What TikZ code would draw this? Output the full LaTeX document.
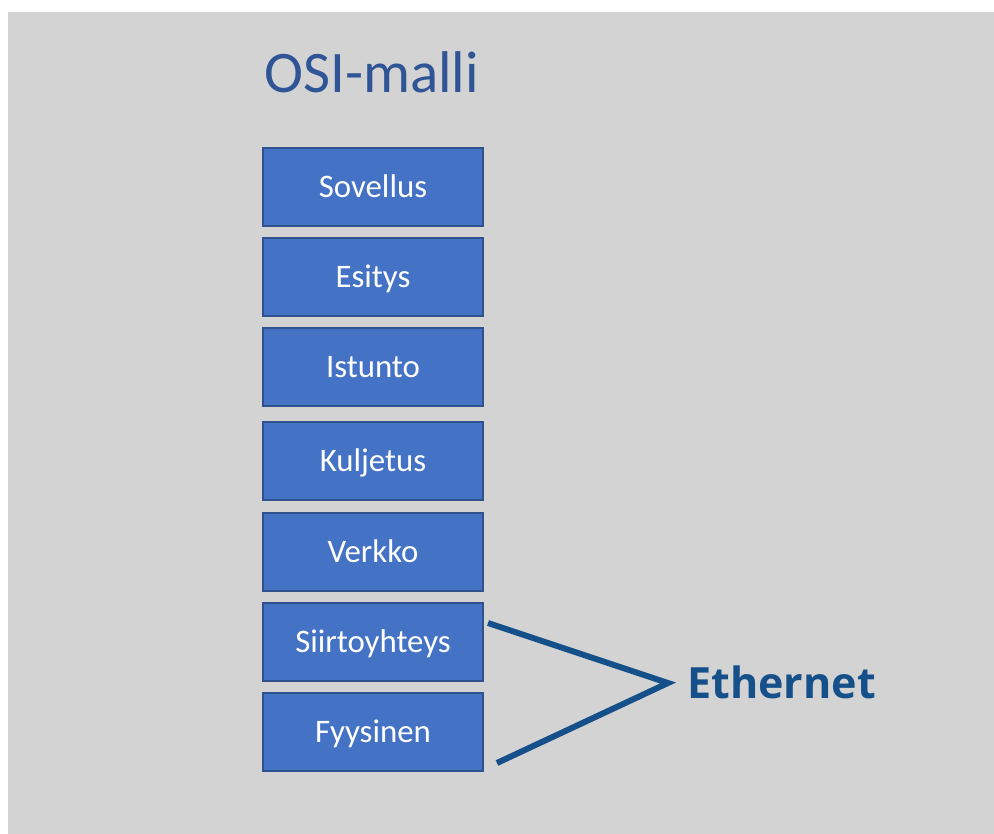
\documentclass[tikz,border=0pt]{standalone}
\usepackage{fontspec}
\setmainfont{Carlito}
\newfontfamily\ethfont{Open Sans}
\definecolor{slidegray}{HTML}{D3D3D3}
\definecolor{layerblue}{HTML}{4472C4}
\definecolor{layeredge}{HTML}{2F528F}
\definecolor{titleblue}{HTML}{2F5597}
\definecolor{ethblue}{HTML}{16508A}
\begin{document}
\begin{tikzpicture}[
    x=0.02cm, y=-0.02cm,
    layer/.style={draw=layeredge, line width=0.8pt, fill=layerblue, text=white, minimum width=4.4cm, minimum height=1.56cm, inner sep=0pt, text height=12.4pt, text depth=0pt, font=\fontsize{18.7}{22}\selectfont},
    title/.style={anchor=base west, inner sep=0pt, text=titleblue, font=\fontsize{33.5}{40}\selectfont},
    label/.style={anchor=base west, inner sep=0pt, text=ethblue, font=\ethfont\bfseries\fontsize{24.5}{30}\selectfont},
    bracket/.style={ethblue, line width=3.4pt, line join=miter}
]

% Background
\fill[white] (0,0) rectangle (994,834);
\fill[slidegray] (8,12) rectangle (994,834);
\useasboundingbox (0,0) rectangle (994,834);

% Title
\node[title] (otsikko) at (264,93) {OSI-malli};

% Layers
\node[layer] (sovellus) at (373,187) {Sovellus};
\node[layer] (esitys) at (373,277) {Esitys};
\node[layer] (istunto) at (373,367) {Istunto};
\node[layer] (kuljetus) at (373,461) {Kuljetus};
\node[layer] (verkko) at (373,552) {Verkko};
\node[layer] (siirto) at (373,642) {Siirtoyhteys};
\node[layer] (fyys) at (373,732) {Fyysinen};

% Ethernet
\node[label] (ethernet) at (687,698) {Ethernet};
\coordinate (kulma) at (668,683);
\coordinate (ylapaa) at (488,623);
\coordinate (alapaa) at (497,763);
\draw[bracket] (ylapaa) -- (kulma) -- (alapaa);

\end{tikzpicture}
\end{document}
